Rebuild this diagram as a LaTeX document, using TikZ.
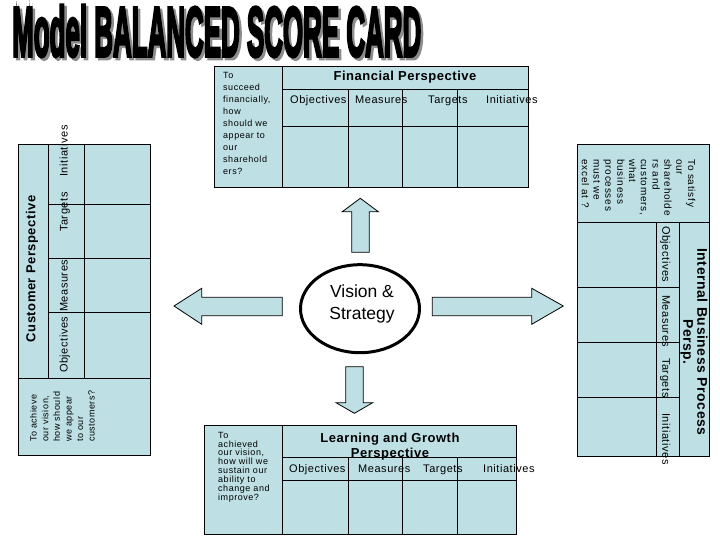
\documentclass[tikz,border=0pt]{standalone}
\usepackage{graphicx}
\usepackage{fontspec}
\setmainfont{Liberation Sans}
\newfontfamily\qfont{Liberation Sans}[LetterSpace=6]
\newfontfamily\rqfont{Liberation Sans}[LetterSpace=8]
\newfontfamily\hfont{Liberation Sans}[LetterSpace=5]
\newfontfamily\tfont{Liberation Sans}[LetterSpace=4]
\newfontfamily\bigtitlefont{Liberation Sans Bold}[FakeBold=5]
\usetikzlibrary{shapes.geometric}
\definecolor{boxblue}{RGB}{190,224,228}
\tikzset{
  cellline/.style={line width=0.8pt, draw=black},
  boxfill/.style={fill=boxblue, draw=black, line width=0.8pt},
  qtext/.style={align=left, inner sep=0pt},
  htext/.style={font=\hfont\fontsize{11}{13}\selectfont, inner sep=0pt, anchor=mid west},
  ttext/.style={font=\tfont\bfseries\fontsize{13}{15}\selectfont, inner sep=0pt, align=center},
  blockarrow/.style={fill=boxblue, draw=black, line width=0.8pt},
  bigtitle/.style={anchor=north west, inner sep=0pt},
}
\newcommand{\titletext}{\resizebox{409pt}{51pt}{\bigtitlefont Model BALANCED SCORE CARD}}
\begin{document}
\begin{tikzpicture}[x=1pt, y=-1pt]
\fill[white] (0,0) rectangle (720,540);
\useasboundingbox (0,0) rectangle (720,540);

% ---- title ----
\node[bigtitle, text=black!45] (titleshadow) at (14.5,7.5) {\titletext};
\node[bigtitle, text=black] (title) at (12,5) {\titletext};

% ---- Financial (top) ----
\draw[boxfill] (214,66) rectangle (528,187);
\draw[cellline] (282,66) -- (282,187);
\draw[cellline] (282,89) -- (528,89);
\draw[cellline] (282,126) -- (528,126);
\foreach \xx in {348,402,457} \draw[cellline] (\xx,89) -- (\xx,187);
\node[ttext, anchor=base] (fintitle) at (405,81) {Financial Perspective};
\node[htext] (finobj) at (290,101) {Objectives};
\node[htext] (finmea) at (355,101) {Measures};
\node[htext] (fintar) at (428,101) {Targets};
\node[htext] (finini) at (486,101) {Initiatives};
\node[qtext, anchor=north west, font=\qfont\fontsize{9}{12}\selectfont] (finq) at (223,71.8)
  {To\\succeed\\financially,\\how\\should we\\appear to\\our\\sharehold\\ers?};

% ---- Learning (bottom) ----
\draw[boxfill] (204,425) rectangle (516,534);
\draw[cellline] (282,425) -- (282,534);
\draw[cellline] (282,457) -- (516,457);
\draw[cellline] (282,480) -- (516,480);
\foreach \xx in {348,402,457} \draw[cellline] (\xx,457) -- (\xx,534);
\node[ttext, anchor=north] (lrntitle) at (390,433.3) {Learning and Growth\\Perspective};
\node[htext] (lrnobj) at (289,469.5) {Objectives};
\node[htext] (lrnmea) at (358,469.5) {Measures};
\node[htext] (lrntar) at (423,469.5) {Targets};
\node[htext] (lrnini) at (483,469.5) {Initiatives};
\node[qtext, anchor=north west, font=\qfont\fontsize{9}{8.9}\selectfont] (lrnq) at (218,431.8)
  {To\\achieved\\our vision,\\how will we\\sustain our\\ability to\\change and\\improve?};

% ---- Customer (left) ----
\draw[boxfill] (18,144) rectangle (150,455);
\draw[cellline] (18,378) -- (150,378);
\draw[cellline] (48,144) -- (48,378);
\draw[cellline] (84,144) -- (84,378);
\foreach \yy in {204,258,312} \draw[cellline] (48,\yy) -- (150,\yy);
\node[ttext, rotate=90] (custitle) at (32,269) {Customer Perspective};
\node[htext, rotate=90] (cusobj) at (65,373) {Objectives};
\node[htext, rotate=90] (cusmea) at (65,312) {Measures};
\node[htext, rotate=90] (custar) at (65,232) {Targets};
\node[htext, rotate=90] (cusini) at (65,177) {Initiatives};
\node[qtext, rotate=90, anchor=north west, font=\qfont\fontsize{9}{11.6}\selectfont] (cusq) at (30,442)
  {To achieve\\our vision,\\how should\\we appear\\to our\\customers?};

% ---- Internal (right) ----
\draw[boxfill] (577,144) rectangle (709,456);
\draw[cellline] (577,222) -- (709,222);
\draw[cellline] (656,222) -- (656,456);
\draw[cellline] (679,222) -- (679,456);
\foreach \yy in {287,342,397} \draw[cellline] (577,\yy) -- (679,\yy);
\node[ttext, rotate=-90, font=\tfont\bfseries\fontsize{14}{14}\selectfont] (inttitle) at (694,342)
  {Internal Business Process\\Persp.};
\node[htext, rotate=-90] (intobj) at (665,226) {Objectives};
\node[htext, rotate=-90] (intmea) at (665,295) {Measures};
\node[htext, rotate=-90] (inttar) at (665,358) {Targets};
\node[htext, rotate=-90] (intini) at (665,413) {Initiatives};
\node[qtext, rotate=-90, anchor=north west, font=\rqfont\fontsize{10}{11.8}\selectfont] (intq) at (695.5,159)
  {To satisfy\\our\\shareholde\\rs and\\customers,\\what\\business\\processes\\must we\\excel at ?};

% ---- block arrows ----
\draw[blockarrow] (351.7,252.3) -- (351.7,211.7) -- (342.3,211.7) -- (360.3,198.3)
  -- (378.3,211.7) -- (369.3,211.7) -- (369.3,252.3) -- cycle;
\draw[blockarrow] (345.7,366.7) -- (345.7,402.7) -- (336,402.7) -- (354.4,413.3)
  -- (372.7,402.7) -- (363.3,402.7) -- (363.3,366.7) -- cycle;
\draw[blockarrow] (282.3,297.3) -- (201.7,297.3) -- (201.7,288.3) -- (174,306)
  -- (201.7,324.3) -- (201.7,315.7) -- (282.3,315.7) -- cycle;
\draw[blockarrow] (432.3,297.3) -- (531.7,297.3) -- (531.7,288.3) -- (563.3,306)
  -- (531.7,324.3) -- (531.7,315.7) -- (432.3,315.7) -- cycle;

% ---- Vision & Strategy ----
\node[ellipse, draw=black, line width=3pt, fill=white, minimum width=119pt, minimum height=88pt, inner sep=0pt] (vision) at (360,308.7) {};
\node[anchor=base, inner sep=0pt, font=\fontsize{17.5}{22}\selectfont] (vis1) at (362,297.3) {Vision \&};
\node[anchor=base, inner sep=0pt, font=\fontsize{17.5}{22}\selectfont] (vis2) at (362,319.3) {Strategy};
\end{tikzpicture}
\end{document}
